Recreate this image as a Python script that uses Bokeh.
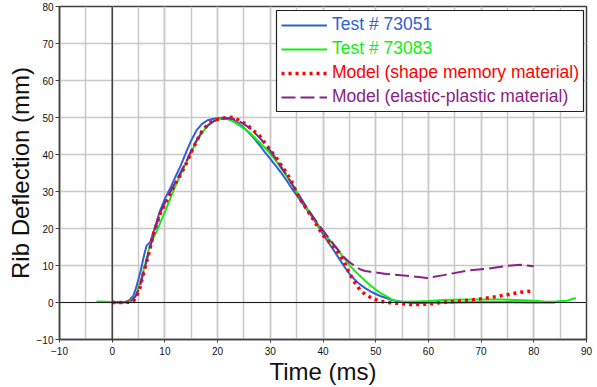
from bokeh.plotting import figure
from bokeh.models import (Range1d, SingleIntervalTicker, Span, BoxAnnotation,
                          Legend, LegendItem)
from bokeh.embed import file_html
from bokeh.resources import INLINE

# ---------------- data ----------------
t_73051 = [0, 2, 3, 4, 4.5, 5.4, 6.0, 6.5, 7.2, 8.0, 9.0, 10, 11, 12, 13, 14, 15, 16, 17, 18,
           19, 20, 21, 22, 23, 24, 25, 26, 27, 28, 29, 30, 31, 32, 33, 34, 35, 36, 37, 38,
           39, 40, 41, 42, 43, 44, 45, 46, 47, 48, 49, 50, 51, 52, 53, 54, 56, 58, 60, 65,
           70, 75, 80, 84]
d_73051 = [0.2, 0.1, 0.3, 1.8, 3.8, 8.5, 12.5, 15.3, 16.3, 19.8, 24.5, 28.0, 30.8, 34.0, 37.0,
           40.5, 43.8, 46.5, 48.2, 49.2, 49.6, 49.8, 49.9, 49.8, 49.3, 48.4, 47.2, 45.8, 44.2,
           42.5, 40.6, 38.8, 37.0, 35.2, 33.2, 31.0, 29.0, 27.0, 25.0, 23.0, 20.8, 18.5, 16.3,
           14.2, 12.0, 9.8, 7.8, 6.2, 4.9, 3.9, 3.0, 2.3, 1.7, 1.2, 0.7, 0.4, 0.0, -0.2, -0.1,
           0.0, 0.1, 0.1, 0.0, 0.0]

t_73083 = [-3, -1, 0, 2, 3.5, 4.5, 5.4, 6.2, 7.0, 7.5, 8.5, 9.8, 11, 12, 13, 14, 15, 16, 17, 18,
           19, 20, 21, 22, 23, 24, 25, 26, 27, 28, 29, 30, 31, 32, 33, 34, 35, 36, 37, 38, 39,
           40, 41, 42, 43, 44, 45, 46, 47, 48, 49, 50, 51, 52, 53, 54, 56, 58, 60, 63, 66, 70,
           74, 78, 80, 82, 84, 85, 86.3, 87, 88]
d_73083 = [0.3, 0.2, 0.1, 0.1, 0.4, 2.0, 5.9, 10.0, 14.5, 16.5, 19.5, 23.8, 28.0, 31.5, 34.6,
           37.6, 40.6, 43.5, 45.8, 47.6, 48.8, 49.5, 49.7, 49.5, 48.9, 48.0, 47.0, 46.0, 44.6,
           43.2, 41.8, 40.2, 38.4, 36.4, 34.4, 32.2, 29.9, 27.6, 25.4, 23.3, 21.2, 19.2, 17.3,
           15.6, 13.8, 12.0, 10.1, 8.6, 7.2, 5.9, 4.6, 3.5, 2.5, 1.7, 0.9, 0.3, 0.2, 0.3, 0.4,
           0.7, 0.8, 0.8, 0.8, 0.6, 0.5, 0.3, 0.2, 0.4, 0.5, 0.8, 1.2]

t_shape = [0, 2, 3.5, 4.1, 4.7, 5.3, 6.0, 7.0, 7.9, 9.2, 10.2, 11.1, 12, 13, 14, 15, 16, 17, 18,
           19, 20, 21, 22, 23, 24, 25, 26, 27, 28, 29, 30, 31, 32, 33, 34, 35, 36, 37, 38, 39,
           40, 41, 42, 43, 44, 45, 46, 47, 48, 49, 50, 51, 52, 53, 55, 57, 59, 60, 62, 65, 67,
           70, 72, 75, 77.5, 80]
d_shape = [0, 0, 0.1, 0.5, 1.9, 4.2, 8.2, 13.5, 18.9, 24.3, 27.2, 29.7, 32.2, 34.6, 37.4, 40.6,
           43.6, 46.2, 47.9, 49.0, 49.5, 49.8, 50.1, 50.0, 49.3, 48.5, 47.5, 46.2, 45.0, 43.0,
           41.2, 39.4, 37.2, 35.2, 32.8, 29.6, 27.2, 25.0, 22.8, 20.5, 18.2, 16.7, 15.1, 13.3,
           11.0, 7.9, 5.5, 3.4, 2.2, 1.4, 0.8, 0.3, 0.1, -0.1, -0.3, -0.6, -0.5, -0.4, -0.1,
           0.3, 0.5, 1.0, 1.4, 2.1, 2.8, 3.1]

t_elastic = [0, 2, 3.5, 4.5, 5.3, 6.0, 7.0, 8.0, 9.2, 10.5, 12, 13, 14, 15, 16, 17, 18, 19, 20,
             21, 22, 23, 24, 25, 26, 27, 28, 29, 30, 31, 32, 33, 34, 35, 36, 37, 38, 39, 40, 41,
             42, 43, 44, 45, 46, 47, 48, 49, 52, 56.6, 59.8, 62.9, 67.3, 71.1, 74.9, 77.5, 80]
d_elastic = [0, 0, 0.2, 1.8, 4.5, 8.4, 13.8, 19.2, 24.5, 28.5, 32.5, 35.2, 38.0, 41.0, 43.8,
             46.0, 47.7, 48.8, 49.4, 49.7, 49.8, 49.6, 49.0, 48.2, 47.2, 45.9, 44.5, 42.8, 41.0,
             39.0, 36.8, 34.6, 32.3, 30.0, 27.7, 25.5, 23.4, 21.4, 19.5, 17.6, 15.8, 14.0, 12.2,
             10.9, 9.9, 9.0, 8.5, 8.3, 7.7, 7.1, 6.6, 7.4, 8.6, 9.1, 9.9, 10.2, 9.8]

series_labels = ["Test # 73051", "Test # 73083",
                 "Model (shape memory material)", "Model (elastic-plastic material)"]
x_title = "Time (ms)"
y_title = "Rib Deflection (mm)"

# ---------------- layout / style ----------------
FONT = "Liberation Sans"
FW, FH = 527, 333
X0, X1, Y0, Y1 = -10, 90, -10, 80
BLUE, GREEN, RED, PURPLE = "#3262d2", "#10f010", "#ff0000", "#882288"
GRID = "#c8c8c8"
DARK = "#404040"

p = figure(frame_width=FW, frame_height=FH, output_backend="svg", toolbar_location=None,
           x_range=Range1d(X0, X1), y_range=Range1d(Y0, Y1),
           min_border_left=59, min_border_right=10, min_border_top=6,
           min_border_bottom=44,
           background_fill_color="white", border_fill_color="white")

p.outline_line_color = DARK
p.outline_line_width = 1.5

p.xaxis.ticker = SingleIntervalTicker(interval=10, num_minor_ticks=2)
p.yaxis.ticker = SingleIntervalTicker(interval=10, num_minor_ticks=0)

for ax in (p.xaxis, p.yaxis):
    ax.axis_line_color = DARK
    ax.axis_line_width = 1.5
    ax.major_tick_line_color = DARK
    ax.major_tick_in = 0
    ax.minor_tick_line_color = None
    ax.major_label_text_font = FONT
    ax.major_label_text_font_size = "10px"
    ax.major_label_text_color = "#111111"
    ax.axis_label_text_font = FONT
    ax.axis_label_text_font_size = "24px"
    ax.axis_label_text_font_style = "normal"
    ax.axis_label_text_color = "#111111"
    ax.axis_label_standoff = 0

p.xaxis.major_tick_out = 3
p.xaxis.major_label_standoff = 3
p.yaxis.major_tick_out = 4
p.yaxis.major_label_standoff = 2
p.xaxis.axis_label = x_title
p.yaxis.axis_label = y_title

p.xgrid.grid_line_color = GRID
p.xgrid.grid_line_width = 1.5
p.xgrid.minor_grid_line_color = GRID
p.xgrid.minor_grid_line_width = 1.5
p.ygrid.grid_line_color = GRID
p.ygrid.grid_line_width = 1.5

p.add_layout(Span(location=0, dimension="height", line_color="#202020", line_width=1.2))
p.add_layout(Span(location=0, dimension="width", line_color="#202020", line_width=1.2))

r1 = p.line(t_73051, d_73051, line_color=BLUE, line_width=2)
r2 = p.line(t_73083, d_73083, line_color=GREEN, line_width=2)
r3 = p.line(t_shape, d_shape, line_color=RED, line_width=3.5, line_dash="3 4")
r4 = p.line(t_elastic, d_elastic, line_color=PURPLE, line_width=2, line_dash="14 5")

# legend box (pixel intents converted to data space of the fixed frame)
bx_l, bx_r, bx_t, bx_b = 217, 524, 4, 105
box = BoxAnnotation(left=X0 + bx_l * (X1 - X0) / FW, right=X0 + bx_r * (X1 - X0) / FW,
                    top=Y1 - bx_t * (Y1 - Y0) / FH, bottom=Y1 - bx_b * (Y1 - Y0) / FH,
                    fill_color="white", fill_alpha=1.0, line_color="#202020", line_width=1.2,
                    line_alpha=1.0)
p.add_layout(box)

ROW = 24
for i, (r, lab, col) in enumerate(zip([r1, r2, r3, r4], series_labels,
                                      [BLUE, GREEN, RED, PURPLE])):
    leg = Legend(items=[LegendItem(label=lab, renderers=[r])],
                 location=(bx_l + 5, FH - (bx_t + 2.5) - ROW * (i + 1)),
                 orientation="vertical", padding=0, margin=0, spacing=0,
                 glyph_width=46, glyph_height=ROW, label_height=ROW, label_standoff=5,
                 label_text_font=FONT, label_text_font_size="17.5px", label_text_color=col,
                 border_line_color=None, background_fill_alpha=0)
    p.add_layout(leg)

open("out.html", "w").write(file_html(p, INLINE))
